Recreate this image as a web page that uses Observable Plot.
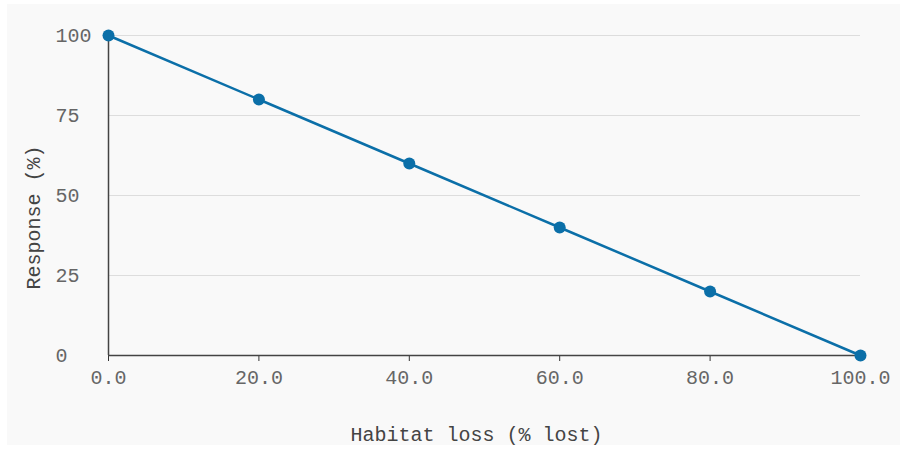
<!DOCTYPE html>
<html>
<head>
<meta charset="utf-8">
<script src="https://cdn.jsdelivr.net/npm/d3@7"></script>
<script src="https://cdn.jsdelivr.net/npm/@observablehq/plot@0.6"></script>
<style>
  html, body { margin: 0; padding: 0; background: #ffffff; }
  #wrap { position: absolute; left: 7px; top: 4px; width: 893px; height: 441px; background: #f9f9f9; overflow: visible; }
  #wrap svg { display: block; background: transparent; overflow: visible; }
</style>
</head>
<body>
<div id="wrap"></div>
<script>
const habitatLoss = [0, 20, 40, 60, 80, 100];
const response = [100, 80, 60, 40, 20, 0];
const xTicks = [0, 20, 40, 60, 80, 100];
const yTicks = [0, 25, 50, 75, 100];
const xLabel = "Habitat loss (% lost)";
const yLabel = "Response (%)";

const data = habitatLoss.map((x, i) => ({x, y: response[i]}));
const color = "#0b6fa8";

const chart = Plot.plot({
  width: 893,
  height: 446,
  marginLeft: 101,
  marginRight: 40,
  marginTop: 31,
  marginBottom: 95,
  style: {fontFamily: "'Liberation Mono', monospace", fontSize: "20px", color: "#555", background: "transparent", overflow: "visible"},
  x: {domain: [0, 100]},
  y: {domain: [0, 100]},
  marks: [
    Plot.gridY(yTicks, {stroke: "#dddddd", strokeOpacity: 1, strokeWidth: 1}),
    Plot.axisY(yTicks, {tickSize: 0, tickPadding: 53, textAnchor: "start", fill: "#666", label: null}),
    Plot.axisX(xTicks, {tickSize: 6, tickPadding: 8, tickFormat: d3.format(".1f"), stroke: "#333", fill: "#666", label: null}),
    Plot.text([yLabel], {frameAnchor: "left", rotate: -90, dx: -75, dy: 22, textAnchor: "middle", lineAnchor: "middle", fill: "#444", text: d => d}),
    Plot.text([xLabel], {frameAnchor: "bottom", dx: -8, dy: 79, textAnchor: "middle", lineAnchor: "middle", fill: "#444", text: d => d}),
    Plot.ruleX([0], {stroke: "#444", strokeWidth: 1.5}),
    Plot.ruleY([0], {stroke: "#444", strokeWidth: 1.5}),
    Plot.line(data, {x: "x", y: "y", stroke: color, strokeWidth: 2.5}),
    Plot.dot(data, {x: "x", y: "y", r: 6, fill: color})
  ]
});
document.getElementById("wrap").appendChild(chart);
</script>
</body>
</html>
